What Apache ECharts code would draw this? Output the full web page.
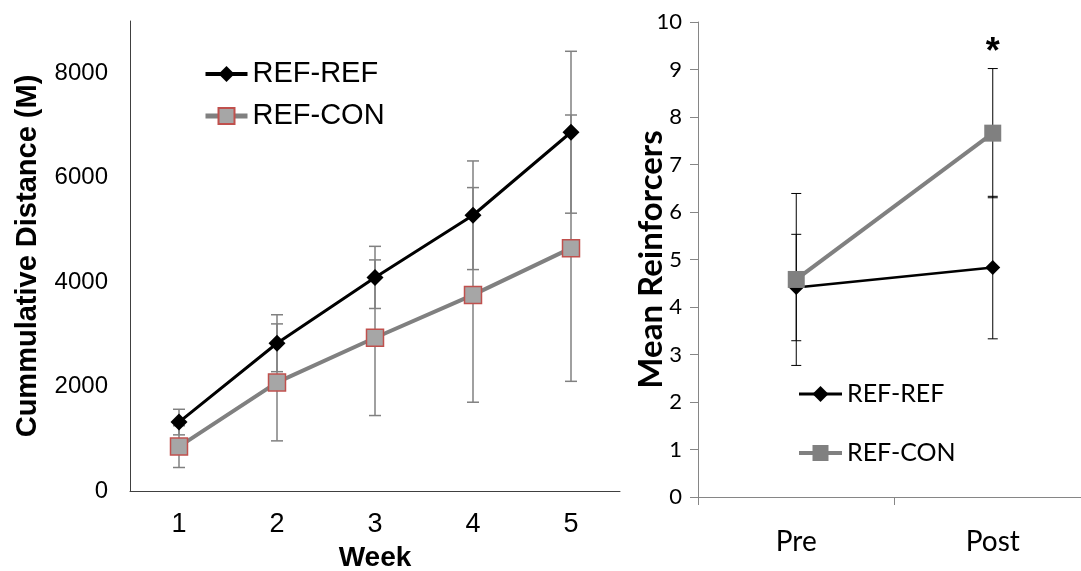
<!DOCTYPE html>
<html>
<head>
<meta charset="utf-8">
<script src="https://cdn.jsdelivr.net/npm/echarts@6/dist/echarts.min.js"></script>
<style>
  html, body { margin: 0; padding: 0; background: #fff; }
  #chart { width: 1081px; height: 571px; }
</style>
</head>
<body>
<div id="chart"></div>
<script>
// Weekly cumulative running distance (metres), mean and SEM per group
const weeks = ['1', '2', '3', '4', '5'];
const refRefDistance = [1320, 2830, 4090, 5280, 6870];
const refRefDistanceSem = [245, 545, 595, 1040, 1550];
const refConDistance = [850, 2080, 2935, 3755, 4650];
const refConDistanceSem = [400, 1120, 1490, 2055, 2550];

// Reinforcers earned before and after the switch, mean and SEM
const phases = ['Pre', 'Post'];
const refRefReinforcers = [4.41, 4.83];
const refRefReinforcersSem = [1.12, 1.5];
const refConReinforcers = [4.58, 7.66];
const refConReinforcersSem = [1.81, 1.36];

const distanceTicks = { min: 0, max: 9000, interval: 2000 };
const reinforcerTicks = { min: 0, max: 10, interval: 1 };

const ARIAL = '"Liberation Sans", Arial, sans-serif';
const CALIBRI = 'Lato, "Open Sans", sans-serif';

function toBars(means, sems) {
  return means.map((m, i) => [i, m, sems[i]]);
}

function errorBars(color, width, cap) {
  return function (params, api) {
    const x = api.value(0), y = api.value(1), e = api.value(2);
    const hi = api.coord([x, y + e]);
    const lo = api.coord([x, y - e]);
    const style = { stroke: color, lineWidth: width };
    return {
      type: 'group',
      children: [
        { type: 'line', shape: { x1: hi[0], y1: hi[1], x2: lo[0], y2: lo[1] }, style },
        { type: 'line', shape: { x1: hi[0] - cap, y1: hi[1], x2: hi[0] + cap, y2: hi[1] }, style },
        { type: 'line', shape: { x1: lo[0] - cap, y1: lo[1], x2: lo[0] + cap, y2: lo[1] }, style }
      ]
    };
  };
}

const chart = echarts.init(document.getElementById('chart'), null, { renderer: 'canvas' });

chart.setOption({
  animation: false,
  backgroundColor: '#ffffff',
  grid: [
    { left: 130, top: 21, right: 461, bottom: 80, outerBoundsMode: 'none' },
    { left: 698, top: 22, right: -10, bottom: 74, outerBoundsMode: 'none' }
  ],
  legend: [
    {
      orient: 'vertical',
      left: 198,
      top: 54,
      itemWidth: 42,
      itemHeight: 20,
      itemGap: 12,
      selectedMode: false,
      textStyle: { fontFamily: ARIAL, fontSize: 29, color: '#000', lineHeight: 30 },
      data: [
        { name: 'REF-REF', lineStyle: { color: '#000', width: 4 } },
        { name: 'REF-CON', lineStyle: { color: '#808080', width: 5 } }
      ]
    },
    {
      orient: 'vertical',
      left: 792,
      top: 374,
      itemWidth: 43,
      itemHeight: 20,
      itemGap: 29,
      selectedMode: false,
      textStyle: { fontFamily: CALIBRI, fontSize: 25, color: '#000', lineHeight: 30 },
      data: [
        { name: 'REF-REF', itemStyle: { color: '#000', borderWidth: 0 }, lineStyle: { color: '#000', width: 3 } },
        { name: 'REF-CON', itemStyle: { color: '#808080', borderWidth: 0 }, lineStyle: { color: '#808080', width: 4 } }
      ]
    }
  ],
  xAxis: [
    {
      gridIndex: 0,
      type: 'category',
      data: weeks,
      name: 'Week',
      nameLocation: 'middle',
      nameGap: 53,
      nameTextStyle: { fontFamily: ARIAL, fontSize: 28, fontWeight: 'bold', color: '#000' },
      axisLine: { lineStyle: { color: '#404040', width: 1 } },
      axisTick: { show: false },
      axisLabel: { fontFamily: ARIAL, fontSize: 27, color: '#000', margin: 20 }
    },
    {
      gridIndex: 1,
      type: 'category',
      data: phases,
      axisLine: { lineStyle: { color: '#868686', width: 1 } },
      axisTick: { show: true, length: 8, lineStyle: { color: '#868686' } },
      axisLabel: { fontFamily: CALIBRI, fontSize: 28, color: '#000', margin: 31 }
    }
  ],
  yAxis: [
    {
      gridIndex: 0,
      type: 'value',
      min: distanceTicks.min,
      max: distanceTicks.max,
      interval: distanceTicks.interval,
      name: 'Cummulative Distance (M)',
      nameLocation: 'middle',
      nameGap: 88,
      nameTextStyle: { fontFamily: ARIAL, fontSize: 29, fontWeight: 'bold', color: '#000' },
      axisLine: { show: true, lineStyle: { color: '#404040', width: 1 } },
      axisTick: { show: false },
      splitLine: { show: false },
      axisLabel: {
        fontFamily: ARIAL, fontSize: 24, color: '#000', margin: 22, showMaxLabel: false,
        formatter: (v) => String(v)
      }
    },
    {
      gridIndex: 1,
      type: 'value',
      min: reinforcerTicks.min,
      max: reinforcerTicks.max,
      interval: reinforcerTicks.interval,
      name: 'Mean Reinforcers',
      nameLocation: 'middle',
      nameGap: 30,
      nameMoveOverlap: false,
      nameTextStyle: { fontFamily: CALIBRI, fontSize: 33, fontWeight: 'bold', color: '#000' },
      axisLine: { show: true, lineStyle: { color: '#868686', width: 1 } },
      axisTick: { show: true, length: 8, lineStyle: { color: '#868686' } },
      splitLine: { show: false },
      axisLabel: { fontFamily: CALIBRI, fontSize: 22, color: '#000', margin: 16 }
    }
  ],
  series: [
    {
      name: 'distance-sem-ref-ref',
      type: 'custom',
      xAxisIndex: 0, yAxisIndex: 0,
      z: 1,
      renderItem: errorBars('#808080', 1.5, 6),
      encode: { x: 0, y: 1 },
      data: toBars(refRefDistance, refRefDistanceSem)
    },
    {
      name: 'distance-sem-ref-con',
      type: 'custom',
      xAxisIndex: 0, yAxisIndex: 0,
      z: 1,
      renderItem: errorBars('#808080', 1.5, 6),
      encode: { x: 0, y: 1 },
      data: toBars(refConDistance, refConDistanceSem)
    },
    {
      name: 'REF-REF',
      type: 'line',
      xAxisIndex: 0, yAxisIndex: 0,
      z: 3,
      data: refRefDistance,
      symbol: 'diamond',
      symbolSize: 17,
      lineStyle: { color: '#000', width: 3 },
      itemStyle: { color: '#000' }
    },
    {
      name: 'REF-CON',
      type: 'line',
      xAxisIndex: 0, yAxisIndex: 0,
      z: 2,
      data: refConDistance,
      symbol: 'rect',
      symbolSize: 17,
      lineStyle: { color: '#808080', width: 4 },
      itemStyle: { color: '#a6a6a6', borderColor: '#c0504d', borderWidth: 1.5 }
    },
    {
      name: 'reinforcer-sem-ref-ref',
      type: 'custom',
      xAxisIndex: 1, yAxisIndex: 1,
      z: 1,
      renderItem: errorBars('#000', 1, 5),
      encode: { x: 0, y: 1 },
      data: toBars(refRefReinforcers, refRefReinforcersSem)
    },
    {
      name: 'reinforcer-sem-ref-con',
      type: 'custom',
      xAxisIndex: 1, yAxisIndex: 1,
      z: 1,
      renderItem: errorBars('#000', 1, 5),
      encode: { x: 0, y: 1 },
      data: toBars(refConReinforcers, refConReinforcersSem)
    },
    {
      name: 'REF-REF',
      type: 'line',
      xAxisIndex: 1, yAxisIndex: 1,
      z: 2,
      data: refRefReinforcers,
      symbol: 'diamond',
      symbolSize: 15,
      lineStyle: { color: '#000', width: 2.5 },
      itemStyle: { color: '#000' }
    },
    {
      name: 'REF-CON',
      type: 'line',
      xAxisIndex: 1, yAxisIndex: 1,
      z: 3,
      data: refConReinforcers,
      symbol: 'rect',
      symbolSize: 17,
      lineStyle: { color: '#808080', width: 4 },
      itemStyle: { color: '#808080' },
      markPoint: {
        symbol: 'circle',
        symbolSize: 0,
        silent: true,
        label: {
          show: true,
          formatter: '*',
          position: 'top',
          distance: -3,
          fontFamily: ARIAL,
          fontSize: 36,
          fontWeight: 'bold',
          color: '#000'
        },
        data: [{ coord: ['Post', refConReinforcers[1] + refConReinforcersSem[1]] }]
      }
    }
  ]
});
</script>
</body>
</html>
